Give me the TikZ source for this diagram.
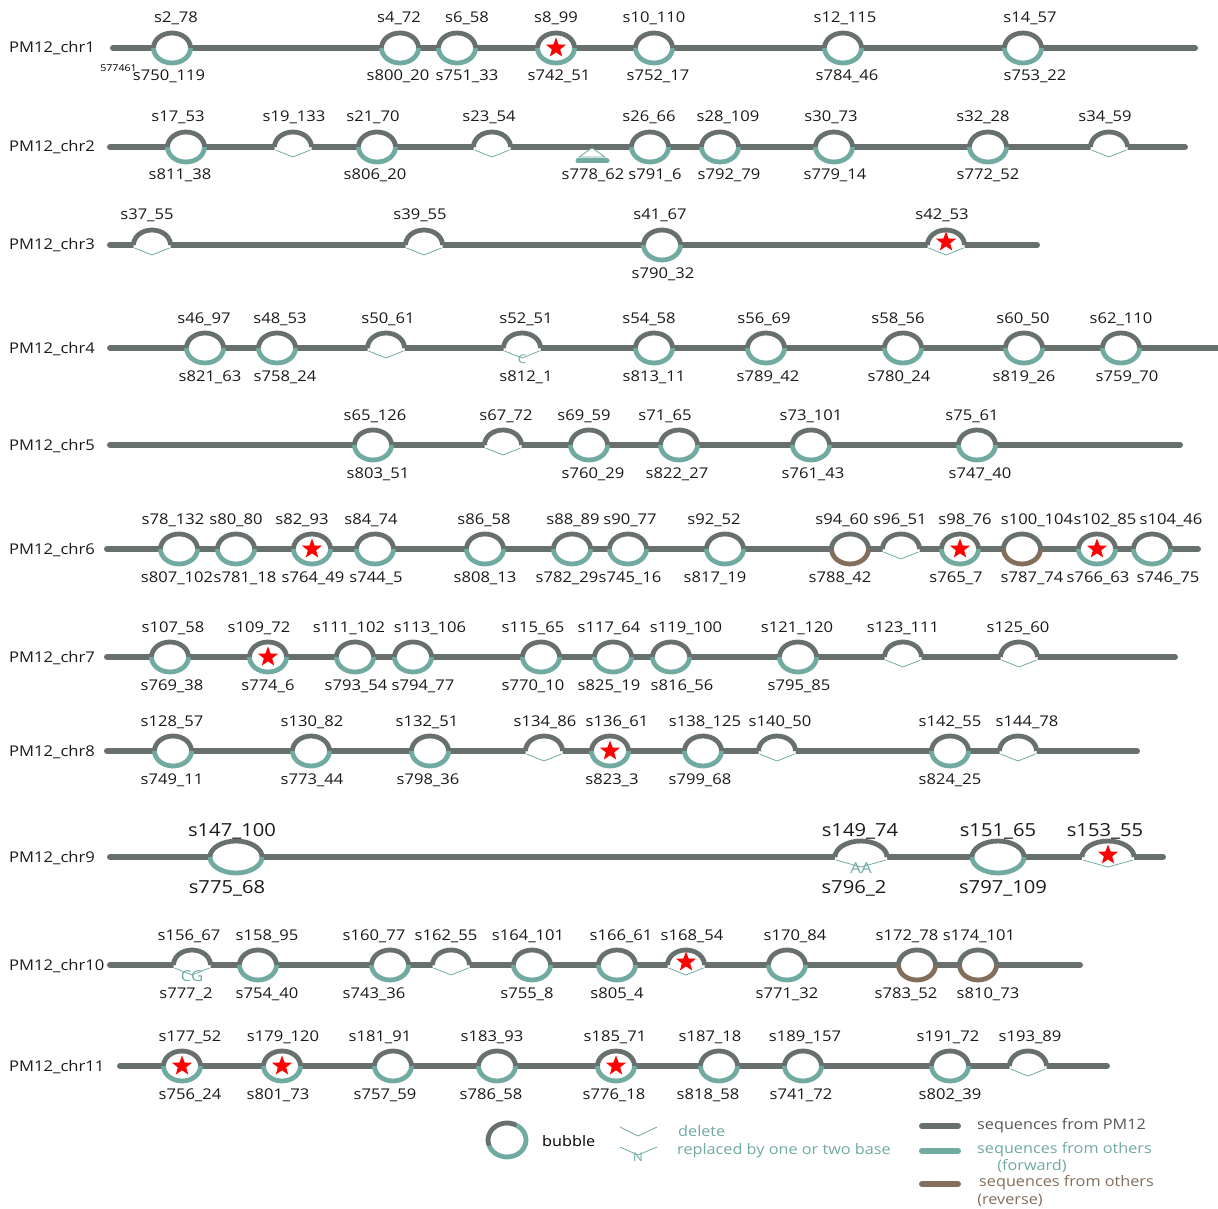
\documentclass[tikz,border=0pt]{standalone}
\usepackage{fontspec}
\setmainfont{Open Sans}[FakeStretch=1.12]
\usetikzlibrary{shapes.geometric}

\definecolor{pmGrey}{RGB}{104,112,110}
\definecolor{fwdTeal}{RGB}{112,170,160}
\definecolor{revBrown}{RGB}{130,110,90}
\definecolor{legGrey}{RGB}{85,88,88}

\tikzset{
  mainLine/.style={draw=pmGrey, line width=6pt, line cap=round},
  topArc/.style={draw=pmGrey, line width=4.8pt},
  lowArc/.style={line width=4.8pt},
  delV/.style={draw=fwdTeal, line width=0.8pt},
  seqLabel/.style={font=\fontsize{14.8}{17}\selectfont, anchor=base, inner sep=0pt, text=black!90},
  chrLabel/.style={font=\fontsize{14.8}{17}\selectfont, anchor=base west, inner sep=0pt, text=black!90},
  baseText/.style={text=fwdTeal, font=\fontsize{15}{17}\selectfont, inner sep=0pt},
  legText/.style={font=\fontsize{14.5}{16}\selectfont, anchor=west, inner sep=0pt},
  redStar/.style={star, star points=5, star point ratio=2.4, fill=red, minimum size=21pt, inner sep=0pt}
}

\newcommand{\bubW}{18.5}
\newcommand{\bubH}{15}
\newcommand{\topOff}{25}
\newcommand{\botOff}{33}

% chromosome: {n}{y}{start x}{end x}
\newcommand{\chrom}[4]{%
  \node[chrLabel] (chr#1) at (9,#2+5) {PM12\_chr#1};
  \coordinate (chr#1a) at (#3,#2);
  \coordinate (chr#1b) at (#4,#2);
  \draw[mainLine] (chr#1a) -- (chr#1b);
}
% bubble: [colour]{x}{y}{id}{top text}{top x}{bottom text}{bottom x}
\newcommand{\bubble}[8][fwdTeal]{%
  \fill[white] (#2,#3) ellipse [x radius=\bubW pt, y radius=\bubH pt];
  \draw[topArc] (#2-\bubW,#3) arc [start angle=180, end angle=0, x radius=\bubW pt, y radius=\bubH pt];
  \draw[lowArc, draw=#1] (#2-\bubW,#3) arc [start angle=180, end angle=360, x radius=\bubW pt, y radius=\bubH pt];
  \node[seqLabel] (#4top) at (#6,#3-\topOff) {#5};
  \node[seqLabel] (#4bot) at (#8,#3+\botOff) {#7};
}
% deleted: {x}{y}{id}{top text}{top x}
\newcommand{\hump}[5]{%
  \fill[white] (#1-\bubW,#2+3.5) -- (#1-\bubW,#2) arc [start angle=180, end angle=0, x radius=\bubW pt, y radius=\bubH pt] -- (#1+\bubW,#2+3.5) -- cycle;
  \draw[topArc] (#1-\bubW,#2) arc [start angle=180, end angle=0, x radius=\bubW pt, y radius=\bubH pt];
  \draw[delV] (#1-\bubW+1,#2+3) -- (#1,#2+10) -- (#1+\bubW-1,#2+3);
  \node[seqLabel] (#3top) at (#5,#2-\topOff) {#4};
}
% replaced: {x}{y}{id}{top text}{top x}{bases}{bottom text}{bottom x}
\newcommand{\swap}[8]{%
  \hump{#1}{#2}{#3}{#4}{#5}
  \node[baseText] (#3sub) at (#1,#2+11) {#6};
  \node[seqLabel] (#3bot) at (#8,#2+\botOff) {#7};
}

\begin{document}
\begin{tikzpicture}[x=1pt,y=-1pt]
  \useasboundingbox (0,0) rectangle (1218,1209);
  % chr1
  \chrom{1}{48}{113}{1195}
  \bubble{172}{48}{s2}{s2\_78}{176}{s750\_119}{169}
  \bubble{400}{48}{s4}{s4\_72}{399}{s800\_20}{398}
  \bubble{457}{48}{s6}{s6\_58}{467}{s751\_33}{467}
  \bubble{556}{48}{s8}{s8\_99}{556}{s742\_51}{559}
  \bubble{654}{48}{s10}{s10\_110}{654}{s752\_17}{658}
  \bubble{843}{48}{s12}{s12\_115}{845}{s784\_46}{847}
  \bubble{1023}{48}{s14}{s14\_57}{1030}{s753\_22}{1035}
  \node[redStar] (star8) at (556,48) {};
  \node[font=\fontsize{9.5}{10}\selectfont, anchor=base east, inner sep=0pt] (pos1) at (137,72) {577461};
  % chr2
  \chrom{2}{147}{110}{1185}
  \bubble{186}{147}{s17}{s17\_53}{178}{s811\_38}{180}
  \hump{293}{147}{s19}{s19\_133}{294}
  \bubble{377}{147}{s21}{s21\_70}{373}{s806\_20}{375}
  \hump{492}{147}{s23}{s23\_54}{489}
  \coordinate (ins778) at (592,148);
  \coordinate (bar778a) at (578,161);
  \coordinate (bar778b) at (607,161);
  \filldraw[delV, fill=white] (ins778) -- ++(-13,9) -- ++(26,0) -- cycle;
  \draw[fwdTeal, line width=5pt, line cap=round] (bar778a) -- (bar778b);
  \node[seqLabel] (s778bot) at (593,147+\botOff) {s778\_62};
  \bubble{650}{147}{s26}{s26\_66}{649}{s791\_6}{655}
  \bubble{720}{147}{s28}{s28\_109}{728}{s792\_79}{729}
  \bubble{834}{147}{s30}{s30\_73}{831}{s779\_14}{835}
  \bubble{988}{147}{s32}{s32\_28}{983}{s772\_52}{988}
  \hump{1109}{147}{s34}{s34\_59}{1105}
  % chr3
  \chrom{3}{245}{110}{1037}
  \hump{152}{245}{s37}{s37\_55}{147}
  \hump{424}{245}{s39}{s39\_55}{420}
  \bubble{662}{245}{s41}{s41\_67}{660}{s790\_32}{663}
  \hump{946}{245}{s42}{s42\_53}{942}
  \node[redStar] (star42) at (946,242) {};
  % chr4
  \chrom{4}{348}{110}{1218}
  \bubble{205}{348}{s46}{s46\_97}{204}{s821\_63}{210}
  \bubble{277}{348}{s48}{s48\_53}{280}{s758\_24}{285}
  \hump{386}{348}{s50}{s50\_61}{388}
  \swap{522}{348}{s52}{s52\_51}{526}{\fontsize{12}{13}\selectfont C}{s812\_1}{526}
  \bubble{654}{348}{s54}{s54\_58}{649}{s813\_11}{654}
  \bubble{766}{348}{s56}{s56\_69}{764}{s789\_42}{768}
  \bubble{903}{348}{s58}{s58\_56}{898}{s780\_24}{899}
  \bubble{1024}{348}{s60}{s60\_50}{1023}{s819\_26}{1024}
  \bubble{1121}{348}{s62}{s62\_110}{1121}{s759\_70}{1127}
  % chr5
  \chrom{5}{445}{110}{1180}
  \bubble{373}{445}{s65}{s65\_126}{375}{s803\_51}{378}
  \hump{503}{445}{s67}{s67\_72}{506}
  \bubble{589}{445}{s69}{s69\_59}{584}{s760\_29}{593}
  \bubble{679}{445}{s71}{s71\_65}{665}{s822\_27}{677}
  \bubble{811}{445}{s73}{s73\_101}{811}{s761\_43}{813}
  \bubble{977}{445}{s75}{s75\_61}{972}{s747\_40}{980}
  % chr6
  \chrom{6}{549}{107}{1198}
  \bubble{179}{549}{s78}{s78\_132}{173}{s807\_102}{177}
  \bubble{236}{549}{s80}{s80\_80}{236}{s781\_18}{245}
  \bubble{312}{549}{s82}{s82\_93}{302}{s764\_49}{313}
  \bubble{375}{549}{s84}{s84\_74}{371}{s744\_5}{376}
  \bubble{485}{549}{s86}{s86\_58}{484}{s808\_13}{485}
  \bubble{572}{549}{s88}{s88\_89}{573}{s782\_29}{567}
  \bubble{628}{549}{s90}{s90\_77}{630}{s745\_16}{630}
  \bubble{725}{549}{s92}{s92\_52}{714}{s817\_19}{715}
  \bubble[revBrown]{850}{549}{s94}{s94\_60}{842}{s788\_42}{840}
  \hump{901}{549}{s96}{s96\_51}{900}
  \bubble{960}{549}{s98}{s98\_76}{965}{s765\_7}{956}
  \bubble[revBrown]{1022}{549}{s100}{s100\_104}{1037}{s787\_74}{1032}
  \bubble{1097}{549}{s102}{s102\_85}{1105}{s766\_63}{1098}
  \bubble{1152}{549}{s104}{s104\_46}{1171}{s746\_75}{1168}
  \node[redStar] (star82) at (312,549) {};
  \node[redStar] (star98) at (960,549) {};
  \node[redStar] (star102) at (1097,549) {};
  % chr7
  \chrom{7}{657}{107}{1175}
  \bubble{170}{657}{s107}{s107\_58}{173}{s769\_38}{172}
  \bubble{268}{657}{s109}{s109\_72}{259}{s774\_6}{268}
  \bubble{355}{657}{s111}{s111\_102}{349}{s793\_54}{356}
  \bubble{413}{657}{s113}{s113\_106}{430}{s794\_77}{423}
  \bubble{541}{657}{s115}{s115\_65}{533}{s770\_10}{533}
  \bubble{613}{657}{s117}{s117\_64}{609}{s825\_19}{609}
  \bubble{671}{657}{s119}{s119\_100}{686}{s816\_56}{682}
  \bubble{798}{657}{s121}{s121\_120}{797}{s795\_85}{799}
  \hump{903}{657}{s123}{s123\_111}{903}
  \hump{1019}{657}{s125}{s125\_60}{1018}
  \node[redStar] (star109) at (268,657) {};
  % chr8
  \chrom{8}{751}{107}{1137}
  \bubble{173}{751}{s128}{s128\_57}{172}{s749\_11}{172}
  \bubble{311}{751}{s130}{s130\_82}{312}{s773\_44}{312}
  \bubble{430}{751}{s132}{s132\_51}{427}{s798\_36}{428}
  \hump{544}{751}{s134}{s134\_86}{545}
  \bubble{610}{751}{s136}{s136\_61}{617}{s823\_3}{612}
  \bubble{703}{751}{s138}{s138\_125}{705}{s799\_68}{700}
  \hump{777}{751}{s140}{s140\_50}{780}
  \bubble{950}{751}{s142}{s142\_55}{950}{s824\_25}{950}
  \hump{1018}{751}{s144}{s144\_78}{1027}
  \node[redStar] (star136) at (610,751) {};
  % chr9
  \chrom{9}{857}{110}{1163}
  \begin{scope}[seqLabel/.append style={font=\fontsize{18}{20}\selectfont}]
    \renewcommand{\bubW}{26}\renewcommand{\bubH}{16}
    \renewcommand{\topOff}{21}\renewcommand{\botOff}{36}
    \bubble{236}{857}{s147}{s147\_100}{232}{s775\_68}{227}
    \swap{861}{857}{s149}{s149\_74}{860}{AA}{s796\_2}{854}
    \bubble{998}{857}{s151}{s151\_65}{998}{s797\_109}{1003}
    \hump{1108}{857}{s153}{s153\_55}{1105}
    \node[redStar] (star153) at (1108,855) {};
  \end{scope}
  % chr10
  \chrom{10}{965}{110}{1080}
  \swap{192}{965}{s156}{s156\_67}{189}{CG}{s777\_2}{186}
  \bubble{258}{965}{s158}{s158\_95}{267}{s754\_40}{267}
  \bubble{390}{965}{s160}{s160\_77}{374}{s743\_36}{374}
  \hump{451}{965}{s162}{s162\_55}{446}
  \bubble{532}{965}{s164}{s164\_101}{528}{s755\_8}{527}
  \bubble{617}{965}{s166}{s166\_61}{621}{s805\_4}{617}
  \hump{686}{965}{s168}{s168\_54}{692}
  \bubble{787}{965}{s170}{s170\_84}{795}{s771\_32}{787}
  \bubble[revBrown]{917}{965}{s172}{s172\_78}{907}{s783\_52}{906}
  \bubble[revBrown]{978}{965}{s174}{s174\_101}{979}{s810\_73}{988}
  \node[redStar] (star168) at (686,962) {};
  % chr11
  \chrom{11}{1066}{120}{1107}
  \bubble{182}{1066}{s177}{s177\_52}{190}{s756\_24}{190}
  \bubble{282}{1066}{s179}{s179\_120}{283}{s801\_73}{278}
  \bubble{393}{1066}{s181}{s181\_91}{380}{s757\_59}{385}
  \bubble{497}{1066}{s183}{s183\_93}{492}{s786\_58}{491}
  \bubble{616}{1066}{s185}{s185\_71}{615}{s776\_18}{614}
  \bubble{719}{1066}{s187}{s187\_18}{710}{s818\_58}{708}
  \bubble{803}{1066}{s189}{s189\_157}{805}{s741\_72}{801}
  \bubble{950}{1066}{s191}{s191\_72}{948}{s802\_39}{950}
  \hump{1028}{1066}{s193}{s193\_89}{1030}
  \node[redStar] (star177) at (182,1066) {};
  \node[redStar] (star179) at (282,1066) {};
  \node[redStar] (star185) at (616,1066) {};
  % Legend
  \coordinate (legBub) at (507,1140);
  \draw[lowArc, draw=fwdTeal] (legBub) ++(200:19pt and 17pt) arc [start angle=200, end angle=420, x radius=19pt, y radius=17pt];
  \draw[topArc] (legBub) ++(60:19pt and 17pt) arc [start angle=60, end angle=200, x radius=19pt, y radius=17pt];
  \node[legText] (legBubText) at (542,1141) {bubble};
  \coordinate (legDel) at (638,1136);
  \draw[delV] (620,1127) -- (legDel) -- (657,1127);
  \node[legText, text=fwdTeal] (legDelText) at (678,1131) {delete};
  \coordinate (legRep) at (638,1155);
  \draw[delV] (620,1147) -- (legRep) -- (657,1147);
  \node[text=fwdTeal, font=\fontsize{12}{13}\selectfont, inner sep=0pt] (legN) at (638,1157) {N};
  \node[legText, text=fwdTeal] (legRepText) at (677,1151) {replaced by one or two base};
  \coordinate (legPMa) at (922,1126);
  \coordinate (legPMb) at (958,1126);
  \coordinate (legFwa) at (922,1151);
  \coordinate (legFwb) at (958,1151);
  \coordinate (legRva) at (922,1184);
  \coordinate (legRvb) at (958,1184);
  \draw[mainLine] (legPMa) -- (legPMb);
  \draw[mainLine, draw=fwdTeal] (legFwa) -- (legFwb);
  \draw[mainLine, draw=revBrown] (legRva) -- (legRvb);
  \node[legText, text=legGrey] (legPMText) at (977,1126) {sequences from PM12};
  \node[legText, text=fwdTeal] (legFwText) at (977,1150) {sequences from others};
  \node[text=fwdTeal, font=\fontsize{14.5}{16}\selectfont, inner sep=0pt] (legFwDir) at (1032,1166) {(forward)};
  \node[legText, text=revBrown] (legRvText) at (979,1183) {sequences from others};
  \node[text=revBrown, font=\fontsize{14.5}{16}\selectfont, inner sep=0pt] (legRvDir) at (1010,1200) {(reverse)};
\end{tikzpicture}
\end{document}
